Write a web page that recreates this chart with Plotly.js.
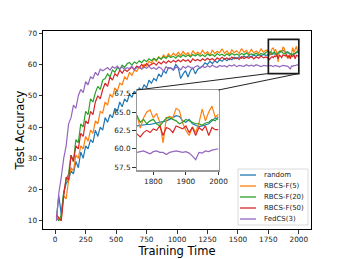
<!DOCTYPE html>
<html><head><meta charset="utf-8">
<script src="https://cdn.plot.ly/plotly-3.0.1.min.js"></script>
<style>html,body{margin:0;padding:0;background:#fff}#chart{width:346px;height:259px}</style>
</head><body><div id="chart"></div>
<script>
// ---- data ----
const times = [10,30,50,70,90,110,130,150,170,190,
  210,230,250,270,290,310,330,350,370,390,
  410,430,450,470,490,510,530,550,570,590,
  610,630,650,670,690,710,730,750,770,790,
  810,830,850,870,890,910,930,950,970,990,
  1010,1030,1050,1070,1090,1110,1130,1150,1170,1190,
  1210,1230,1250,1270,1290,1310,1330,1350,1370,1390,
  1410,1430,1450,1470,1490,1510,1530,1550,1570,1590,
  1610,1630,1650,1670,1690,1710,1730,
  1750,1760,1770,1780,1790,1800,1810,1820,1830,1840,1850,1860,1870,1880,1890,1900,
  1910,1920,1930,1940,1950,1960,1970,1980,1990,2000];

const seriesNames = ['random','RBCS-F(5)','RBCS-F(20)','RBCS-F(50)','FedCS(3)'];

const randomAcc = [11,18,12,19,22,23,26,25,29,27,
  32,30,34,33,36,35,39,37,40,39,
  43,41.5,44,43,46,45,48,46.5,49,48,
  50.5,49.5,51.5,50.5,52.5,51.8,53.5,52.5,55,54,
  55.5,54.8,57,56,58,57.2,59,58.8,58.2,60,
  59,55.5,57,58,56,58,59,57,58.5,59,
  59.5,60.5,60,61,60.3,61.2,60.6,61.5,61,61.8,
  61.2,62,61.5,62.3,61.8,62.5,62,62.7,62.2,62.8,
  62.4,63,62.6,63.1,62.8,63.2,62.9,
  63.1,63.2,63.2,63.3,63.3,63.4,63.4,63.5,63.6,63.8,64.0,64.3,64.5,64.4,63.8,63.6,
  64.0,63.4,63.2,63.0,63.1,63.2,63.4,63.8,64.2,64.0];

const rbcsF5 = [12,10.5,11,18,17,23,27,26,31,30,
  34,33,37,35.5,39,38,42,41,45,44.5,
  48,47,50.5,49.5,52.5,51.5,54,53.5,56,55.2,
  57.5,56.5,58.2,57.8,59.3,58.6,60.1,59.5,61,60.4,
  61.8,61,62.5,61.7,63,62.2,63.4,62.5,63.6,62.8,
  63.9,62.9,64.2,63.1,63.8,62.6,64.4,63.3,64,63.2,
  64.5,63.4,64.1,62.9,64.6,63.5,64.2,63.7,65,63.6,
  64.3,63.2,64.7,63.8,64.4,63.5,65.1,63.9,64.5,63.4,
  64.8,63.7,64.3,63.6,65,63.9,64.6,
  64.5,62.8,64.2,65,65.3,64.2,64.8,63.6,60.8,64.2,64.4,64.2,65.5,65.2,63.5,62.5,
  61.8,63,62.2,63.5,65.4,63.8,65,65.8,64.3,64.7];

const rbcsF20 = [11,10,12,19,23,25,31,29,36,35,
  41,40,45,44,49,48,51,53,52,55,
  55.5,57,56,58.2,57.5,59,58.4,59.8,59.1,60.2,
  60.6,59.8,60.8,60.3,61.2,60.6,61.5,60.9,61.8,61.2,
  62,61.4,62.3,61.7,62.5,61.9,62.8,62.2,62.6,62,
  62.9,62.3,63.1,62.5,63,62.4,63.2,62.7,63.3,62.6,
  63.1,62.5,63.4,62.8,63.2,62.6,63.5,62.9,63.3,62.7,
  63.4,62.8,63.6,63,63.3,62.9,63.5,63.1,63.7,63,
  63.4,63.1,63.6,63,63.5,63.2,63.8,
  64.5,63.6,64,63.4,63.8,64,63.4,63.1,63.6,64.2,64.2,64,63.8,63.4,63.6,64,
  63.8,63.6,63.4,63.4,63.2,63.5,63.6,64,63.8,64.4];

const rbcsF50 = [12,11,10,18,24,23,31,29,34,33,
  38,37,42,41,45,44,48,50,49,52,
  54,53,56,55,57,56.3,58.2,57.2,58.4,57.8,
  58.6,59.2,58.4,59.5,58.9,60,59.3,60.3,59.6,60.2,
  60.5,59.8,60.8,60.2,61,60.4,61.2,60.6,61.3,60.8,
  61.4,60.9,61.6,61,61.5,60.7,61.8,61.2,61.6,61.1,
  61.8,61.3,62,61.4,61.9,61.2,62.1,61.6,62.3,61.7,
  62.1,61.5,62.4,61.8,62.2,61.6,62.5,61.9,62.3,62,
  62.6,61.8,62.4,62,62.7,62.1,62.4,
  62,61.6,62.2,62.5,62.2,62.7,62.5,63.1,61.8,62.9,62.7,62.2,63.1,62.9,62.7,63.1,
  62.2,62.9,61.8,62.9,62.5,63.1,61.8,62.9,62.6,62.6];

const fedCS3 = [10,19,24,30,34,41,43,47,46,50,
  52,51,54.5,53.5,56,55.5,57.5,56.5,58.5,58,
  58.5,59,58.2,59.3,58.8,59.5,58.6,59.2,58.4,59,
  58.7,59.4,58.3,59,59.3,58.5,59.1,58.8,59.5,58.6,
  59,58.4,59.2,58.8,57.8,59.3,58.7,59,58.2,59.1,
  58.9,58.3,59.4,58.8,59.5,59,58.6,59.3,59.6,58.9,
  59.4,59,59.6,59.2,59.8,59.3,59.1,59.7,59.4,59.6,
  59.2,59.8,59.5,59.9,59.3,59.7,59.6,59.4,59.9,59.5,
  59.8,59.4,59.9,59.6,59.3,59.7,59.5,
  59.5,59.6,59.7,59.5,59.3,59.6,59.7,59.5,59.5,59.2,59.5,59.6,59.7,59.6,59.5,59.6,
  59.4,59.0,58.5,59.5,59.4,59.7,59.6,59.8,59.9,60.0];

const xTicksMain = [0,250,500,750,1000,1250,1500,1750,2000];
const yTicksMain = [10,20,30,40,50,60,70];
const xTicksInset = [1800,1900,2000];
const yTicksInset = [57.5,60,62.5,65,67.5];
const yTickTextInset = ['57.5','60.0','62.5','65.0','67.5'];

// ---- styling / geometry ----
const allSeries = [randomAcc, rbcsF5, rbcsF20, rbcsF50, fedCS3];
const colors = ['#1f77b4','#ff7f0e','#2ca02c','#d62728','#9467bd'];
const W = 346, H = 259, L = 43, R = 311, T = 31, B = 229;
const xMainRange = [-100, 2100], yMainRange = [7.4, 70.7];
const xInsetRange = [1750, 2000], yInsetRange = [57.1, 68.0];
const inset = {x0: 137, x1: 218.5, y0: 90, y1: 170};
const px2x = p => (p - L) / (R - L);
const px2y = p => (B - p) / (B - T);
const dx2p = v => (v - xMainRange[0]) / (xMainRange[1] - xMainRange[0]);
const dy2p = v => (v - yMainRange[0]) / (yMainRange[1] - yMainRange[0]);
const FONT = 'DejaVu Sans, Arial, sans-serif';

const traces = [];
allSeries.forEach((ys, i) => {
  traces.push({x: times, y: ys, type: 'scatter', mode: 'lines', name: seriesNames[i],
    line: {color: colors[i], width: 1.2}, xaxis: 'x', yaxis: 'y', hoverinfo: 'skip'});
});
allSeries.forEach((ys, i) => {
  traces.push({x: times, y: ys, type: 'scatter', mode: 'lines', name: seriesNames[i],
    line: {color: colors[i], width: 1.2}, xaxis: 'x2', yaxis: 'y2', hoverinfo: 'skip', showlegend: false});
});

const shapes = [];
const annotations = [];
// zoom rectangle on main axes
shapes.push({type: 'rect', xref: 'x', yref: 'y', x0: xInsetRange[0], x1: xInsetRange[1],
  y0: yInsetRange[0], y1: yInsetRange[1], line: {color: '#1a1a1a', width: 1.7}, fillcolor: 'rgba(0,0,0,0)', layer: 'above'});
// connectors
shapes.push({type: 'line', xref: 'paper', yref: 'paper', x0: dx2p(xInsetRange[0]), y0: dy2p(yInsetRange[0]),
  x1: px2x(inset.x0), y1: px2y(inset.y0), line: {color: '#222', width: 1}});
shapes.push({type: 'line', xref: 'paper', yref: 'paper', x0: dx2p(xInsetRange[1]), y0: dy2p(yInsetRange[0]),
  x1: px2x(inset.x1), y1: px2y(inset.y0), line: {color: '#222', width: 1}});
// legend box
const leg = {x0: 238, x1: 308, y0: 169, y1: 225, line0: 240, line1: 256, text: 262, first: 175, step: 11};
shapes.push({type: 'rect', xref: 'paper', yref: 'paper', x0: px2x(leg.x0), x1: px2x(leg.x1),
  y0: px2y(leg.y1), y1: px2y(leg.y0), line: {color: '#d0d0d0', width: 0.8}, fillcolor: 'rgba(255,255,255,0.8)', layer: 'above'});
seriesNames.forEach((n, i) => {
  const yy = leg.first + i * leg.step;
  shapes.push({type: 'line', xref: 'paper', yref: 'paper', x0: px2x(leg.line0), x1: px2x(leg.line1),
    y0: px2y(yy), y1: px2y(yy), line: {color: colors[i], width: 1.3}});
  annotations.push({xref: 'paper', yref: 'paper', x: px2x(leg.text), y: px2y(yy), text: n, showarrow: false,
    xanchor: 'left', yanchor: 'middle', font: {size: 7, color: '#222', family: FONT}});
});

const axCommon = {showgrid: false, zeroline: false, ticks: 'outside', ticklen: 3.5, tickwidth: 0.8,
  tickcolor: '#000', showline: true, mirror: true, tickfont: {size: 7.3, color: '#222', family: FONT}};

const layout = {
  width: W, height: H,
  margin: {l: L, r: W - R, t: T, b: H - B, pad: 0},
  paper_bgcolor: '#fff', plot_bgcolor: '#fff',
  font: {family: FONT, color: '#222'},
  showlegend: false,
  xaxis: Object.assign({}, axCommon, {range: xMainRange, tickvals: xTicksMain, linecolor: '#000', linewidth: 1,
    title: {text: 'Training Time', font: {size: 11.5, color: '#000', family: FONT}, standoff: 3}, domain: [0, 1], anchor: 'y'}),
  yaxis: Object.assign({}, axCommon, {range: yMainRange, tickvals: yTicksMain, linecolor: '#000', linewidth: 1,
    title: {text: 'Test Accuracy', font: {size: 11.5, color: '#000', family: FONT}, standoff: 0}, domain: [0, 1], anchor: 'x'}),
  xaxis2: Object.assign({}, axCommon, {range: xInsetRange, tickvals: xTicksInset, linecolor: '#9a9a9a', linewidth: 1.5,
    domain: [px2x(inset.x0), px2x(inset.x1)], anchor: 'y2'}),
  yaxis2: Object.assign({}, axCommon, {range: yInsetRange, tickvals: yTicksInset, ticktext: yTickTextInset, linecolor: '#9a9a9a', linewidth: 1.5,
    domain: [px2y(inset.y1), px2y(inset.y0)], anchor: 'x2'}),
  shapes: shapes,
  annotations: annotations
};

Plotly.newPlot('chart', traces, layout, {staticPlot: true, displayModeBar: false});
</script>
</body></html>
